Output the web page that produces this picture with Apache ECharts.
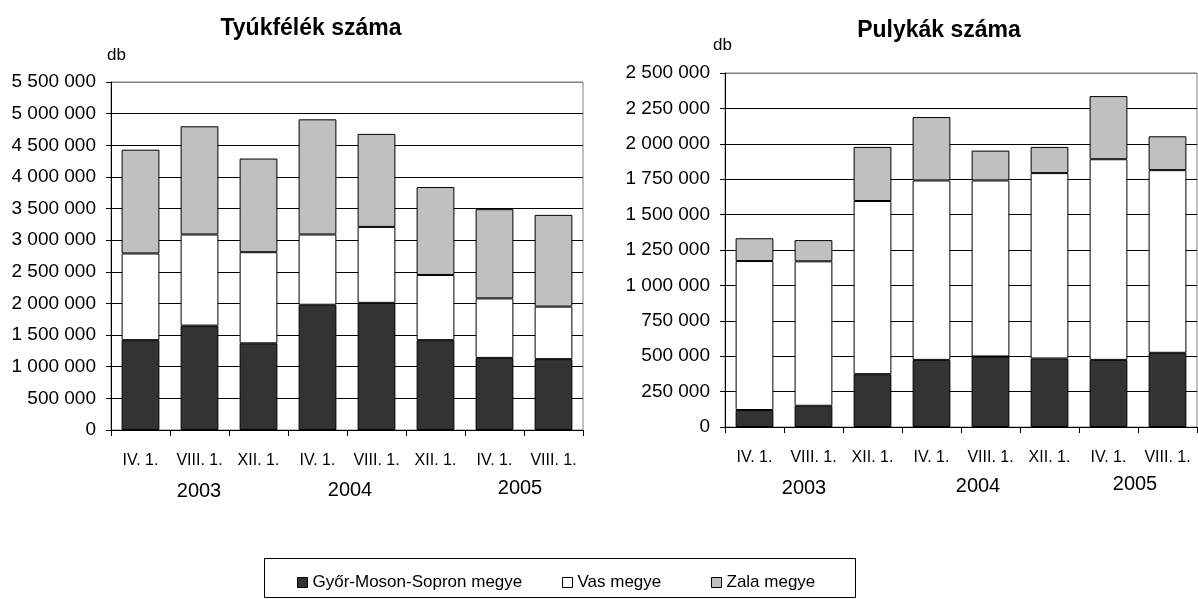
<!DOCTYPE html>
<html>
<head>
<meta charset="utf-8">
<script src="https://cdn.jsdelivr.net/npm/echarts@6/dist/echarts.min.js"></script>
<style>
html,body{margin:0;padding:0;background:#fff;}
#c{width:1198px;height:599px;}
</style>
</head>
<body>
<div id="c"></div>
<script>
// ---- data ----
const categories = ['IV. 1.', 'VIII. 1.', 'XII. 1.', 'IV. 1.', 'VIII. 1.', 'XII. 1.', 'IV. 1.', 'VIII. 1.'];
const years = ['2003', '2004', '2005'];
const seriesNames = ['Győr-Moson-Sopron megye', 'Vas megye', 'Zala megye'];

// Tyúkfélék száma
const chickenGyor = [1420000, 1650000, 1370000, 1980000, 2010000, 1420000, 1140000, 1120000];
const chickenVas  = [1370000, 1440000, 1440000, 1110000, 1200000, 1030000, 940000, 830000];
const chickenZala = [1640000, 1710000, 1480000, 1820000, 1470000, 1390000, 1410000, 1450000];

// Pulykák száma
const turkeyGyor = [120000, 150000, 373000, 474000, 498000, 484000, 474000, 524000];
const turkeyVas  = [1052000, 1020000, 1223000, 1267000, 1243000, 1309000, 1417000, 1290000];
const turkeyZala = [161000, 150000, 382000, 448000, 211000, 185000, 446000, 239000];

const titles = ['Tyúkfélék száma', 'Pulykák száma'];
const unitLabel = 'db';

// ---- styling ----
const colors = ['#333333', '#ffffff', '#c0c0c0'];
const FONT = 'Liberation Sans, Arial, sans-serif';

function fmt(v) {
  return String(v).replace(/\B(?=(\d{3})+(?!\d))/g, ' ');
}
function splitColors(max, interval) {
  const n = Math.round(max / interval) + 1;
  const arr = [];
  for (let i = 0; i < n; i++) arr.push(i === n - 1 ? '#808080' : '#000000');
  return arr;
}

const grids = [
  {left: 111, right: 615, top: 82, bottom: 169, show: true, borderColor: '#808080', borderWidth: 1, backgroundColor: 'transparent'},
  {left: 725, right: 1, top: 73, bottom: 172, show: true, borderColor: '#808080', borderWidth: 1, backgroundColor: 'transparent'}
];

function xAxis(gi) {
  return {
    type: 'category', gridIndex: gi, data: categories,
    axisLine: {lineStyle: {color: '#000', width: 1}},
    axisTick: {show: true, length: 6, lineStyle: {color: '#000'}},
    axisLabel: {color: '#000', fontFamily: FONT, fontSize: 16, margin: 23, interval: 0}
  };
}
function yAxis(gi, max, interval, margin) {
  return {
    type: 'value', gridIndex: gi, min: 0, max: max, interval: interval,
    axisLine: {show: true, lineStyle: {color: '#000', width: 1}},
    axisTick: {show: true, length: 5, inside: false, lineStyle: {color: '#000'}},
    axisLabel: {color: '#000', fontFamily: FONT, fontSize: 19, margin: margin, formatter: fmt},
    splitLine: {show: true, lineStyle: {color: splitColors(max, interval), width: 1}}
  };
}
function barSeries(name, data, idx, gi) {
  return {
    name: name, type: 'bar', stack: 's' + gi, data: data,
    xAxisIndex: gi, yAxisIndex: gi,
    barCategoryGap: '36%',
    itemStyle: {color: colors[idx], borderColor: '#000', borderWidth: 1},
    emphasis: {disabled: true},
    animation: false
  };
}

const chickenSets = [chickenGyor, chickenVas, chickenZala];
const turkeySets = [turkeyGyor, turkeyVas, turkeyZala];
const series = [];
chickenSets.forEach((d, i) => series.push(barSeries(seriesNames[i], d, i, 0)));
turkeySets.forEach((d, i) => series.push(barSeries(seriesNames[i], d, i, 1)));

const legendLefts = [292, 557, 706];
const legends = seriesNames.map((n, i) => ({
  data: [n], left: legendLefts[i], top: 569, itemWidth: 10, itemHeight: 10, itemGap: 4,
  icon: 'rect', selectedMode: false,
  itemStyle: {borderColor: '#000', borderWidth: 1},
  textStyle: {color: '#000', fontFamily: FONT, fontSize: 17}
}));

const yearPosLeft = [199, 350, 520];
const yearPosRight = [804, 978, 1135];
const yearTopLeft = [491, 490, 488];
const yearTopRight = [488, 486, 484];
const graphics = [];
years.forEach((y, i) => {
  graphics.push({type: 'text', x: yearPosLeft[i], y: yearTopLeft[i], style: {text: y, fill: '#000', font: '20px ' + FONT, textAlign: 'center', textVerticalAlign: 'middle'}});
  graphics.push({type: 'text', x: yearPosRight[i], y: yearTopRight[i], style: {text: y, fill: '#000', font: '20px ' + FONT, textAlign: 'center', textVerticalAlign: 'middle'}});
});
graphics.push({type: 'rect', shape: {x: 264.5, y: 558.5, width: 591, height: 39}, style: {fill: 'none', stroke: '#000', lineWidth: 1}, z: -1});
graphics.push({type: 'text', x: 107, y: 55, style: {text: unitLabel, fill: '#000', font: '17px ' + FONT, textVerticalAlign: 'middle'}});
graphics.push({type: 'text', x: 713, y: 45, style: {text: unitLabel, fill: '#000', font: '17px ' + FONT, textVerticalAlign: 'middle'}});

const chart = echarts.init(document.getElementById('c'), null, {renderer: 'canvas'});
chart.setOption({
  backgroundColor: '#fff',
  animation: false,
  title: [
    {text: titles[0], left: 306, top: 12, textAlign: 'center', textStyle: {fontFamily: FONT, fontSize: 23, fontWeight: 'bold', color: '#000'}},
    {text: titles[1], left: 934, top: 14, textAlign: 'center', textStyle: {fontFamily: FONT, fontSize: 23, fontWeight: 'bold', color: '#000'}}
  ],
  legend: legends,
  grid: grids,
  xAxis: [xAxis(0), xAxis(1)],
  yAxis: [yAxis(0, 5500000, 500000, 15), yAxis(1, 2500000, 250000, 15)],
  series: series,
  graphic: graphics
});
</script>
</body>
</html>
